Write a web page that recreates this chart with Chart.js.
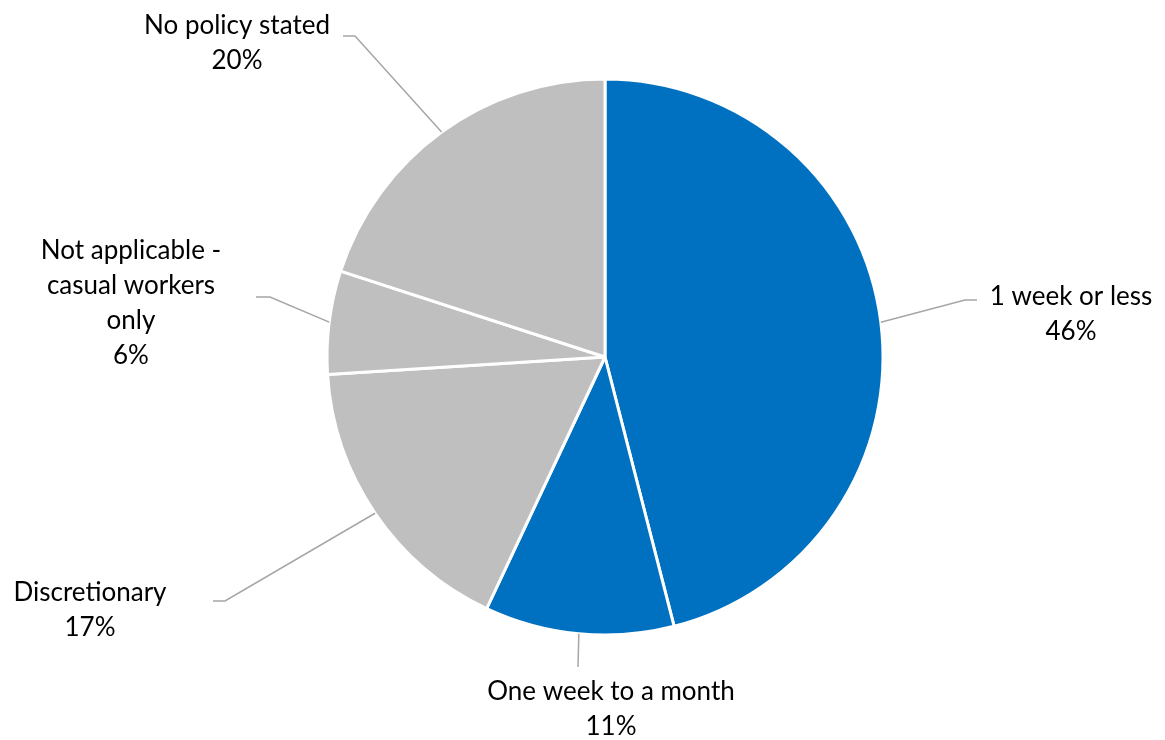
<!DOCTYPE html>
<html lang="en">
<head>
  <meta charset="UTF-8" />
  <title>Notice policy</title>
  <script src="https://cdn.jsdelivr.net/npm/chart.js"></script>
  <style>
    body {
      margin: 0;
      background: white;
    }
    .wrap {
      width: 1165px;
      height: 740px;
    }
  </style>
</head>
<body>
  <div class="wrap"><canvas id="pie"></canvas></div>

  <script>
    const categories = [
      "1 week or less",
      "One week to a month",
      "Discretionary",
      "Not applicable - casual workers only",
      "No policy stated"
    ];
    const shares = [46, 11, 17, 6, 20];
    const sliceColors = ["#0070C0", "#0070C0", "#BFBFBF", "#BFBFBF", "#BFBFBF"];

    // label text lines, elbow of the leader line, end of its short tail, text anchor
    const labelLayout = [
      { lines: ["1 week or less"], elbow: [965, 300], tail: 977, x: 1071, y: 297 },
      { lines: ["One week to a month"], elbow: [578, 667], tail: 578, x: 611, y: 692 },
      { lines: ["Discretionary"], elbow: [225, 601], tail: 213, x: 90, y: 593 },
      { lines: ["Not applicable -", "casual workers", "only"], elbow: [270, 297], tail: 256, x: 131, y: 251 },
      { lines: ["No policy stated"], elbow: [355, 36], tail: 343, x: 237, y: 26 }
    ];

    const leaderLabels = {
      id: "leaderLabels",
      afterDatasetsDraw(chart) {
        const ctx = chart.ctx;
        const arcs = chart.getDatasetMeta(0).data;
        ctx.save();
        arcs.forEach((arc, i) => {
          const lay = labelLayout[i];
          const mid = (arc.startAngle + arc.endAngle) / 2;
          const sx = arc.x + Math.cos(mid) * arc.outerRadius;
          const sy = arc.y + Math.sin(mid) * arc.outerRadius;
          ctx.strokeStyle = "#A6A6A6";
          ctx.lineWidth = 1.5;
          ctx.beginPath();
          ctx.moveTo(sx, sy);
          ctx.lineTo(lay.elbow[0], lay.elbow[1]);
          ctx.lineTo(lay.tail, lay.elbow[1]);
          ctx.stroke();

          ctx.fillStyle = "#000";
          ctx.font = "26px Lato";
          ctx.textAlign = "center";
          ctx.textBaseline = "middle";
          const lines = lay.lines.concat([shares[i] + "%"]);
          lines.forEach((t, k) => ctx.fillText(t, lay.x, lay.y + k * 35));
        });
        ctx.restore();
      }
    };

    new Chart(document.getElementById("pie"), {
      type: "pie",
      data: {
        labels: categories,
        datasets: [{
          data: shares,
          backgroundColor: sliceColors,
          borderColor: "#FFFFFF",
          borderWidth: 3
        }]
      },
      options: {
        responsive: true,
        maintainAspectRatio: false,
        animation: false,
        layout: { padding: { top: 77.5, bottom: 103.5, left: 200, right: 155 } },
        plugins: {
          legend: { display: false },
          tooltip: { enabled: false }
        }
      },
      plugins: [leaderLabels]
    });
  </script>
</body>
</html>
